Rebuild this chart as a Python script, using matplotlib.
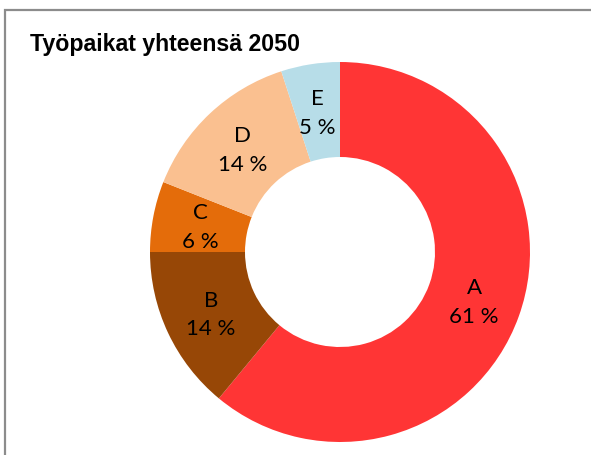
import numpy as np
import matplotlib.pyplot as plt
from matplotlib.patches import Rectangle

# データ
labels = ["A", "B", "C", "D", "E"]
values = [61, 14, 6, 14, 5]
colors = ["#FF3535", "#974706", "#E46C0A", "#FAC090", "#B7DDE8"]
title = "Työpaikat yhteensä 2050"

W, H = 591, 455
fig = plt.figure(figsize=(W / 100, H / 100), dpi=100)

# 枠線（左と上のみ見える）
fig.patches.append(Rectangle((5 / W, -0.1), 1.2, 1 - 10 / H + 0.1,
                             transform=fig.transFigure, fill=False,
                             edgecolor="#8c8c8c", linewidth=1.6))

# ドーナツ
cx, cy, r = 340, 252, 190
ax = fig.add_axes([(cx - r) / W, (H - cy - r) / H, 2 * r / W, 2 * r / H])
wedges, _ = ax.pie(values, colors=colors, startangle=90, counterclock=False,
                   radius=1, wedgeprops=dict(width=0.5, edgecolor="none"))
ax.set_xlim(-1, 1)
ax.set_ylim(-1, 1)
ax.set_aspect("equal")
ax.axis("off")

# ラベル
total = sum(values)
angle = 90
for lab, v in zip(labels, values):
    mid = angle - v / total * 360 / 2
    angle -= v / total * 360
    x = 0.75 * np.cos(np.radians(mid))
    y = 0.75 * np.sin(np.radians(mid)) - 0.012
    ax.text(x, y, f"{lab}\n{v} %", ha="center", va="center",
            fontsize=16, family="Lato", linespacing=1.55, color="black")

fig.text(30 / W, 1 - 44 / H, title, ha="left", va="center",
         fontsize=16.7, fontweight="bold", family="Liberation Sans")

fig.savefig("out.png", dpi=100)
